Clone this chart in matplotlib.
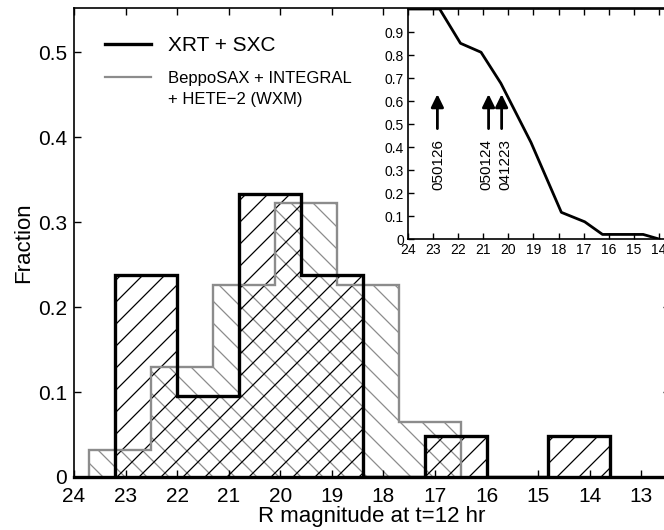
import numpy as np
import matplotlib

matplotlib.use('Agg')
import matplotlib.pyplot as plt
from matplotlib.ticker import FormatStrFormatter

# hatch spacing scales with dpi, so render at 132 dpi and shrink point sizes
DPI = 132
s = 100 / DPI

plt.rcParams['font.family'] = ['Liberation Sans', 'DejaVu Sans']
plt.rcParams['hatch.linewidth'] = 0.9 * s

# histogram bins in R magnitude, as read left to right
xrt_edges = [23.2, 22.0, 20.8, 19.6, 18.4, 17.2, 16.0, 14.8, 13.6]
xrt_frac = [0.238, 0.095, 0.333, 0.238, 0.0, 0.048, 0.0, 0.048]

old_edges = [23.7, 22.5, 21.3, 20.1, 18.9, 17.7, 16.5]
old_frac = [0.032, 0.129, 0.226, 0.323, 0.226, 0.065]

# inset: cumulative fraction vs magnitude
cum_mag = [24.0, 22.74, 21.91, 21.09, 20.30, 19.1, 17.89, 16.96, 16.25, 14.63, 14.0]
cum_frac = [1.0, 1.0, 0.851, 0.812, 0.677, 0.42, 0.116, 0.075, 0.020, 0.020, 0.0]

grb_names = ['050126', '050124', '041223']
grb_mag = [22.83, 20.79, 20.27]
label_mag = [22.80, 20.86, 20.14]

gray = '0.55'

fig = plt.figure(figsize=(664 / DPI, 530 / DPI), dpi=DPI)
ax = fig.add_axes([0.1114, 0.1, 0.897, 0.885])

# hatching first, outlines on top
ax.stairs(old_frac, old_edges, fill=True, facecolor='none', edgecolor=gray,
          hatch='\\\\', linewidth=0)
ax.stairs(xrt_frac, xrt_edges, fill=True, facecolor='none', edgecolor='k',
          hatch='//', linewidth=0)
ax.stairs(old_frac, old_edges, color=gray, linewidth=1.7 * s)
ax.stairs(xrt_frac, xrt_edges, color='k', linewidth=2.4 * s)

ax.set_xlim(24, 12.45)
ax.set_ylim(0, 0.552)
ax.set_xticks(np.arange(13, 25))
ax.set_yticks(np.arange(0, 0.51, 0.1))
ax.xaxis.set_major_formatter(FormatStrFormatter('%g'))
ax.yaxis.set_major_formatter(FormatStrFormatter('%g'))
ax.tick_params(direction='in', length=5 * s, width=1 * s, labelsize=15 * s,
               top=True, right=True)
ax.tick_params(axis='x', pad=7 * s)
ax.tick_params(axis='y', pad=5 * s)
for sp in ax.spines.values():
    sp.set_linewidth(1.2 * s)
ax.spines['bottom'].set_linewidth(2.4 * s)
ax.set_xlabel('R magnitude at t=12 hr', fontsize=16 * s, labelpad=0)
ax.set_ylabel('Fraction', fontsize=16 * s, labelpad=3 * s)

# legend drawn by hand
ax.plot([0.0523, 0.1298], [0.923, 0.923], color='k', lw=2.4 * s,
        transform=ax.transAxes)
ax.plot([0.0523, 0.1298], [0.852, 0.852], color=gray, lw=1.6 * s,
        transform=ax.transAxes)
ax.text(0.1585, 0.908, 'XRT + SXC', fontsize=15 * s, va='baseline',
        transform=ax.transAxes)
ax.text(0.1585, 0.866, 'BeppoSAX + INTEGRAL\n+ HETE\u22122 (WXM)',
        fontsize=12 * s, va='top', linespacing=1.5, transform=ax.transAxes)

# inset
axi = fig.add_axes([0.6145, 0.549, 0.3885, 0.434])
axi.plot(cum_mag, cum_frac, color='k', lw=2 * s)
for m, lm, name in zip(grb_mag, label_mag, grb_names):
    axi.annotate('', xy=(m, 0.63), xytext=(m, 0.48),
                 arrowprops=dict(arrowstyle='-|>,head_length=0.45,head_width=0.22',
                                 color='k', lw=2 * s, mutation_scale=17 * s,
                                 shrinkA=0, shrinkB=0))
    axi.text(lm, 0.435, name, rotation=90, ha='center', va='top',
             fontsize=11 * s)
axi.set_xlim(24, 13.72)
axi.set_ylim(0, 1)
axi.set_xticks(np.arange(14, 25))
axi.set_yticks(np.arange(0, 0.91, 0.1))
axi.xaxis.set_major_formatter(FormatStrFormatter('%g'))
axi.yaxis.set_major_formatter(FormatStrFormatter('%g'))
axi.tick_params(direction='in', length=4 * s, width=1 * s, labelsize=10 * s,
                pad=3 * s, top=True, right=False)
for sp in axi.spines.values():
    sp.set_linewidth(1.2 * s)

fig.savefig('out.png', dpi=DPI)
